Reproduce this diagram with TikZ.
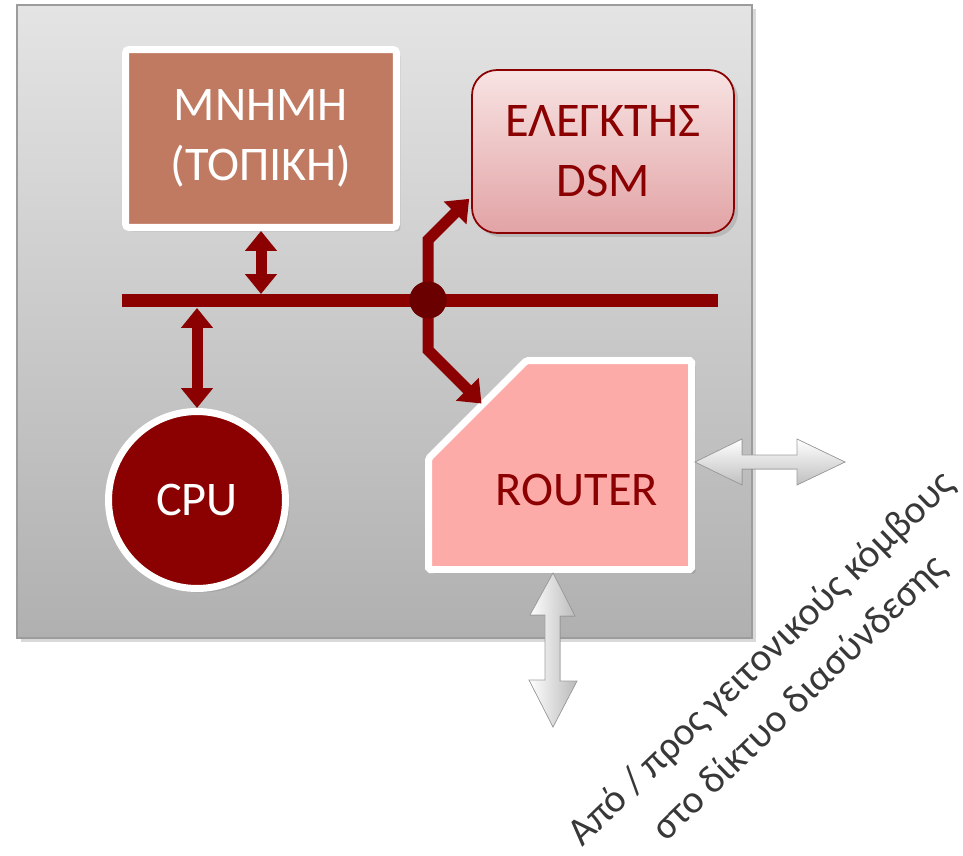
\documentclass[tikz,border=0pt]{standalone}
\usepackage{fontspec}
\setmainfont{Carlito}
\usetikzlibrary{arrows.meta,calc,shadows}

\definecolor{busred}{HTML}{8B0000}
\definecolor{hubred}{HTML}{6A0000}
\definecolor{memfill}{HTML}{C07A62}
\definecolor{routerfill}{HTML}{FDABA9}
\definecolor{dsmtop}{HTML}{F8E3E3}
\definecolor{dsmbot}{HTML}{E2A3A5}
\definecolor{paneltop}{HTML}{E4E4E4}
\definecolor{panelbot}{HTML}{B0B0B0}
\definecolor{panelline}{HTML}{9C9C9C}
\definecolor{notegray}{HTML}{383838}

\newcommand\boxfont{\fontsize{27.5}{34}\selectfont}
\newcommand\notefont{\fontsize{22.5}{31}\selectfont}

\begin{document}
\begin{tikzpicture}[x=0.02cm,y=-0.02cm,>={Triangle[length=0.4cm,width=0.62cm]}]
  \tikzstyle{shade} = [drop shadow={opacity=0.3,shadow xshift=0.08cm,shadow yshift=-0.08cm}]
  \tikzstyle{panel} = [rectangle, draw=panelline, line width=1pt, top color=paneltop, bottom color=panelbot, minimum width=14.7cm, minimum height=12.66cm, shade]
  \tikzstyle{memblock} = [rectangle, draw=white, line width=0.14cm, fill=memfill, rounded corners=2pt, minimum width=5.42cm, minimum height=3.56cm, text=white, align=center, font=\boxfont, shade]
  \tikzstyle{ctrlblock} = [rectangle, draw=busred, line width=1pt, rounded corners=0.5cm, top color=dsmtop, bottom color=dsmbot, minimum width=5.24cm, minimum height=3.26cm, text=busred, align=center, font=\boxfont, shade]
  \tikzstyle{cpu} = [circle, draw=white, line width=0.14cm, fill=busred, minimum size=3.54cm, text=white, font=\boxfont, shade]
  \tikzstyle{hub} = [circle, fill=hubred, minimum size=0.74cm, inner sep=0pt]
  \tikzstyle{bus} = [draw=busred, line width=0.26cm]
  \tikzstyle{busarrow} = [draw=busred, line width=0.22cm]
  \tikzstyle{routerbox} = [draw=white, line width=0.14cm, fill=routerfill, rounded corners=1pt, shade]
  \tikzstyle{routerlbl} = [text=busred, font=\boxfont]
  \tikzstyle{linkarrow} = [draw=gray!75, line width=0.4pt, top color=white, bottom color=gray!50]
  \tikzstyle{note} = [text=notegray, align=center, font=\notefont, rotate=44]

  \useasboundingbox (0,0) rectangle (963,855);

  % node board
  \node[panel] (board) at (384.5,321.5) {};

  % router with cut corner
  \coordinate (rtNW) at (428.5,360.5);
  \coordinate (rtSE) at (691.5,569.5);
  \coordinate (rtA) at ($(rtNW)+(98,0)$);
  \coordinate (rtB) at ($(rtNW)+(0,98)$);
  \filldraw[routerbox] (rtA) -- (rtNW -| rtSE) -- (rtSE) -- (rtNW |- rtSE) -- (rtB) -- cycle;
  \node[routerlbl] (router) at (577,490) {ROUTER};

  \node[memblock] (memory) at (261,138.5) {ΜΝΗΜΗ\\(ΤΟΠΙΚΗ)};
  \node[ctrlblock] (dsm) at (603,151.5) {ΕΛΕΓΚΤΗΣ\\DSM};
  \node[cpu] (cpu) at (197,500) {CPU};

  % local bus
  \coordinate (busW) at (122,300);
  \coordinate (busE) at (718,300);
  \draw[bus] (busW) -- (busE);

  \draw[busarrow,<->] (memory.south) -- ($(memory.south |- busW)+(0,-6)$);
  \draw[busarrow,<->] ($(cpu.north |- busW)+(0,8)$) -- (cpu.north);

  \node[hub] (hub) at (428,300) {};
  \draw[busarrow,->] (hub.center) -- ++(0,-60) -- ($(dsm.south west)+(-2,-35)$);
  \draw[busarrow,->] (hub.center) -- ++(0,50) -- ($(rtA)!0.5!(rtB)+(4,-6)$);
  \node[hub] at (hub) {};

  % links to the neighbour nodes
  \coordinate (netE) at (845,462);
  \coordinate (netS) at (553,727);
  \filldraw[linkarrow] ($(rtSE |- netE)+(3.5,0)$) -- ++(47,-23) -- ++(0,16) -- ++(55,0) -- ++(0,-16)
    -- (netE) -- ++(-48,23) -- ++(0,-16) -- ++(-55,0) -- ++(0,16) -- cycle;
  \filldraw[linkarrow, left color=white, right color=gray!55] ($(netS |- rtSE)+(0,3.5)$) -- ++(22,43) -- ++(-15,0) -- ++(0,65) -- ++(17,0)
    -- (netS) -- ++(-24,-47) -- ++(16,0) -- ++(0,-65) -- ++(-15,0) -- cycle;

  \node[note] (linknote) at (781,679) {Από / προς γειτονικούς κόμβους\\στο δίκτυο διασύνδεσης};
\end{tikzpicture}
\end{document}
